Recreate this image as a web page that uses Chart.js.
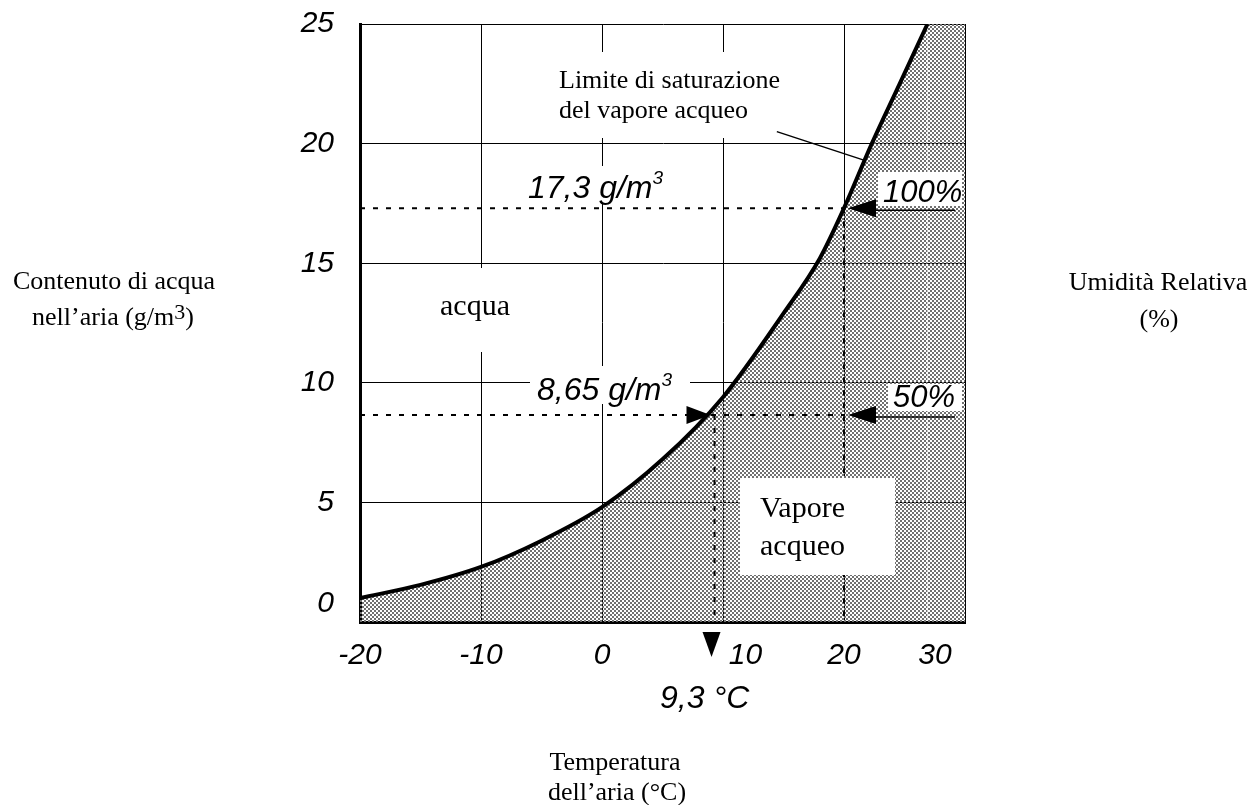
<!DOCTYPE html>
<html>
<head>
<meta charset="utf-8">
<title>Contenuto di acqua nell'aria</title>
<style>
  html, body { margin: 0; padding: 0; background: #fff; }
</style>
<script src="https://cdn.jsdelivr.net/npm/chart.js@4/dist/chart.umd.min.js"></script>
</head>
<body>
<canvas id="chart" width="1252" height="805"></canvas>
<script>
// Saturation curve
const tempC    = [-20, -15, -10, -5, 0, 5, 10, 15, 18, 20, 22.3, 24.6, 26.9];
const waterGm3 = [1.0, 1.55, 2.3, 3.4, 4.8, 6.8, 9.4, 12.9, 15.2, 17.3, 20.0, 22.5, 25.0];

// Axis ranges / ticks
const xTicks = [-20, -10, 0, 10, 20, 30];
const yTicks = [0, 5, 10, 15, 20, 25];

// Marked readings
const dewPoint = 9.3;      // °C
const airTemp = 20;        // °C
const satAtAir = 17.3;     // g/m3 (100%)
const halfSat = 8.65;      // g/m3 (50%)

const SERIF = '"Liberation Serif", "Times New Roman", serif';
const SANS = '"Liberation Sans", Arial, sans-serif';

const canvas = document.getElementById('chart');
const ctx = canvas.getContext('2d');

// halftone dots for the vapour area
function dotPattern() {
  const c = document.createElement('canvas');
  c.width = 4; c.height = 4;
  const g = c.getContext('2d');
  g.fillStyle = '#707070';
  g.fillRect(0, 0, 2, 2);
  g.fillRect(2, 2, 2, 2);
  return ctx.createPattern(c, 'repeat');
}
const dots = dotPattern();

const curve = tempC.map((t, i) => ({ x: t, y: waterGm3[i] }));
const last = curve[curve.length - 1];
const rightStrip = [{ x: last.x, y: yTicks[yTicks.length - 1] }, { x: xTicks[xTicks.length - 1], y: yTicks[yTicks.length - 1] }];

function line(c, x1, y1, x2, y2) {
  c.beginPath(); c.moveTo(x1, y1); c.lineTo(x2, y2); c.stroke();
}
function tri(c, pts) {
  c.beginPath(); c.moveTo(pts[0], pts[1]); c.lineTo(pts[2], pts[3]); c.lineTo(pts[4], pts[5]); c.closePath(); c.fill();
}
// draws text parts (with superscripts) left/center aligned
function parts(c, list, x, y, align) {
  let w = 0;
  list.forEach(p => { c.font = p.font; w += c.measureText(p.t).width; });
  let cx = align === 'center' ? x - w / 2 : x;
  c.textAlign = 'left';
  list.forEach(p => {
    c.font = p.font;
    c.fillText(p.t, cx, y - (p.dy || 0));
    cx += c.measureText(p.t).width;
  });
}

const overlay = {
  id: 'overlay',
  afterDatasetsDraw(chart) {
    const c = chart.ctx;
    const { x, y } = chart.scales;
    const a = chart.chartArea;
    const px = v => x.getPixelForValue(v);
    const py = v => y.getPixelForValue(v);
    c.save();

    // dotted reading lines
    c.strokeStyle = '#000';
    c.lineWidth = 2;
    c.setLineDash([5, 8]);
    line(c, px(-20), py(satAtAir), px(airTemp), py(satAtAir));
    line(c, px(airTemp), py(satAtAir), px(airTemp), py(0));
    line(c, px(-20), py(halfSat), px(airTemp), py(halfSat));
    line(c, px(dewPoint), py(halfSat), px(dewPoint), py(0));
    c.setLineDash([]);

    // white patches behind labels
    c.fillStyle = '#fff';
    c.fillRect(548, 52, 266, 86);
    c.fillRect(424, 268, 108, 84);
    c.fillRect(520, 166, 150, 37);
    c.fillRect(530, 366, 160, 38);
    c.fillRect(878, 172, 84, 34);
    c.fillRect(888, 384, 74, 27);
    c.fillRect(740, 478, 155, 97);

    // arrows
    c.fillStyle = '#000';
    c.lineWidth = 1.5;
    [satAtAir, halfSat].forEach(v => {
      const tx = px(airTemp) + 4, ty = py(v);
      tri(c, [tx, ty, tx + 28, ty - 9, tx + 28, ty + 9]);
      line(c, tx + 28, ty + 2, a.right - 10, ty + 2);
    });
    {
      const tx = px(dewPoint) - 4, ty = py(halfSat);
      tri(c, [tx, ty, tx - 24, ty - 9, tx - 24, ty + 9]);
      const dx = px(dewPoint) - 3;
      tri(c, [dx, a.bottom + 35, dx - 9, a.bottom + 10, dx + 9, a.bottom + 10]);
    }

    // pointer to the curve
    line(c, px(14.45), py(20.5), px(21.7), py(19.3));

    // texts inside the plot
    c.fillStyle = '#000';
    c.textBaseline = 'alphabetic';
    const serif26 = '26px ' + SERIF, serif30 = '30px ' + SERIF;
    const it32 = 'italic 32px ' + SANS, it31 = 'italic 31px ' + SANS, sup = 'italic 19px ' + SANS;
    parts(c, [{ t: 'Limite di saturazione', font: serif26 }], 559, 88);
    parts(c, [{ t: 'del vapore acqueo', font: serif26 }], 559, 118);
    parts(c, [{ t: 'acqua', font: serif30 }], 440, 315);
    parts(c, [{ t: 'Vapore', font: serif30 }], 760, 517);
    parts(c, [{ t: 'acqueo', font: serif30 }], 760, 555);
    parts(c, [{ t: '17,3 g/m', font: it32 }, { t: '3', font: sup, dy: 14 }], 528, 198);
    parts(c, [{ t: '8,65 g/m', font: it32 }, { t: '3', font: sup, dy: 14 }], 537, 400);
    parts(c, [{ t: '100%', font: it31 }], 883, 202);
    parts(c, [{ t: '50%', font: it31 }], 893, 407);
    parts(c, [{ t: '9,3 °C', font: it32 }], 660, 708);

    // axis titles
    parts(c, [{ t: 'Contenuto di acqua', font: serif26 }], 114, 289, 'center');
    parts(c, [{ t: 'nell\u2019aria (g/m', font: serif26 }, { t: '3', font: '22px ' + SERIF, dy: 6 }, { t: ')', font: serif26 }], 113, 325, 'center');
    parts(c, [{ t: 'Umidità Relativa', font: serif26 }], 1158, 290, 'center');
    parts(c, [{ t: '(%)', font: serif26 }], 1159, 327, 'center');
    parts(c, [{ t: 'Temperatura', font: serif26 }], 615, 770, 'center');
    parts(c, [{ t: 'dell\u2019aria (°C)', font: serif26 }], 617, 800, 'center');

    c.restore();
  }
};

const tickFont = { family: SANS, style: 'italic', size: 30 };
const sp = '\u2002';

new Chart(ctx, {
  type: 'scatter',
  data: {
    datasets: [{
      data: curve,
      showLine: true,
      borderColor: '#000',
      borderWidth: 4,
      backgroundColor: dots,
      fill: 'origin',
      pointRadius: 0,
      cubicInterpolationMode: 'monotone'
    }, {
      data: rightStrip,
      showLine: true,
      borderWidth: 0,
      borderColor: 'rgba(0,0,0,0)',
      backgroundColor: dots,
      fill: 'origin',
      pointRadius: 0
    }]
  },
  options: {
    responsive: false,
    animation: false,
    layout: { padding: { left: 300, right: 287, top: 24, bottom: 123 } },
    plugins: {
      legend: { display: false },
      tooltip: { enabled: false }
    },
    scales: {
      x: {
        type: 'linear',
        min: xTicks[0],
        max: xTicks[xTicks.length - 1],
        afterBuildTicks: axis => { axis.ticks = xTicks.map(v => ({ value: v })); },
        afterFit: axis => { axis.height = 60; axis.paddingLeft = 0; axis.paddingRight = 0; },
        grid: { color: '#000', lineWidth: 1, drawTicks: false },
        border: { color: '#000', width: 3 },
        ticks: {
          color: '#000', font: tickFont, padding: 16,
          // the scan prints "10" and "30" off their grid lines
          callback: v => v === 10 ? sp + sp + sp + '10' : v === 30 ? '30' + sp + sp + sp + sp : String(v)
        }
      },
      y: {
        type: 'linear',
        min: yTicks[0],
        max: yTicks[yTicks.length - 1],
        afterBuildTicks: axis => { axis.ticks = yTicks.map(v => ({ value: v })); },
        afterFit: axis => { axis.width = 60; axis.paddingTop = 0; axis.paddingBottom = 0; },
        grid: { color: '#000', lineWidth: 1, drawTicks: false },
        border: { color: '#000', width: 3 },
        ticks: {
          color: '#000', font: tickFont, padding: 26,
          callback: v => v === 0 ? ['0', ''] : String(v)
        }
      }
    }
  },
  plugins: [overlay]
});
</script>
</body>
</html>
